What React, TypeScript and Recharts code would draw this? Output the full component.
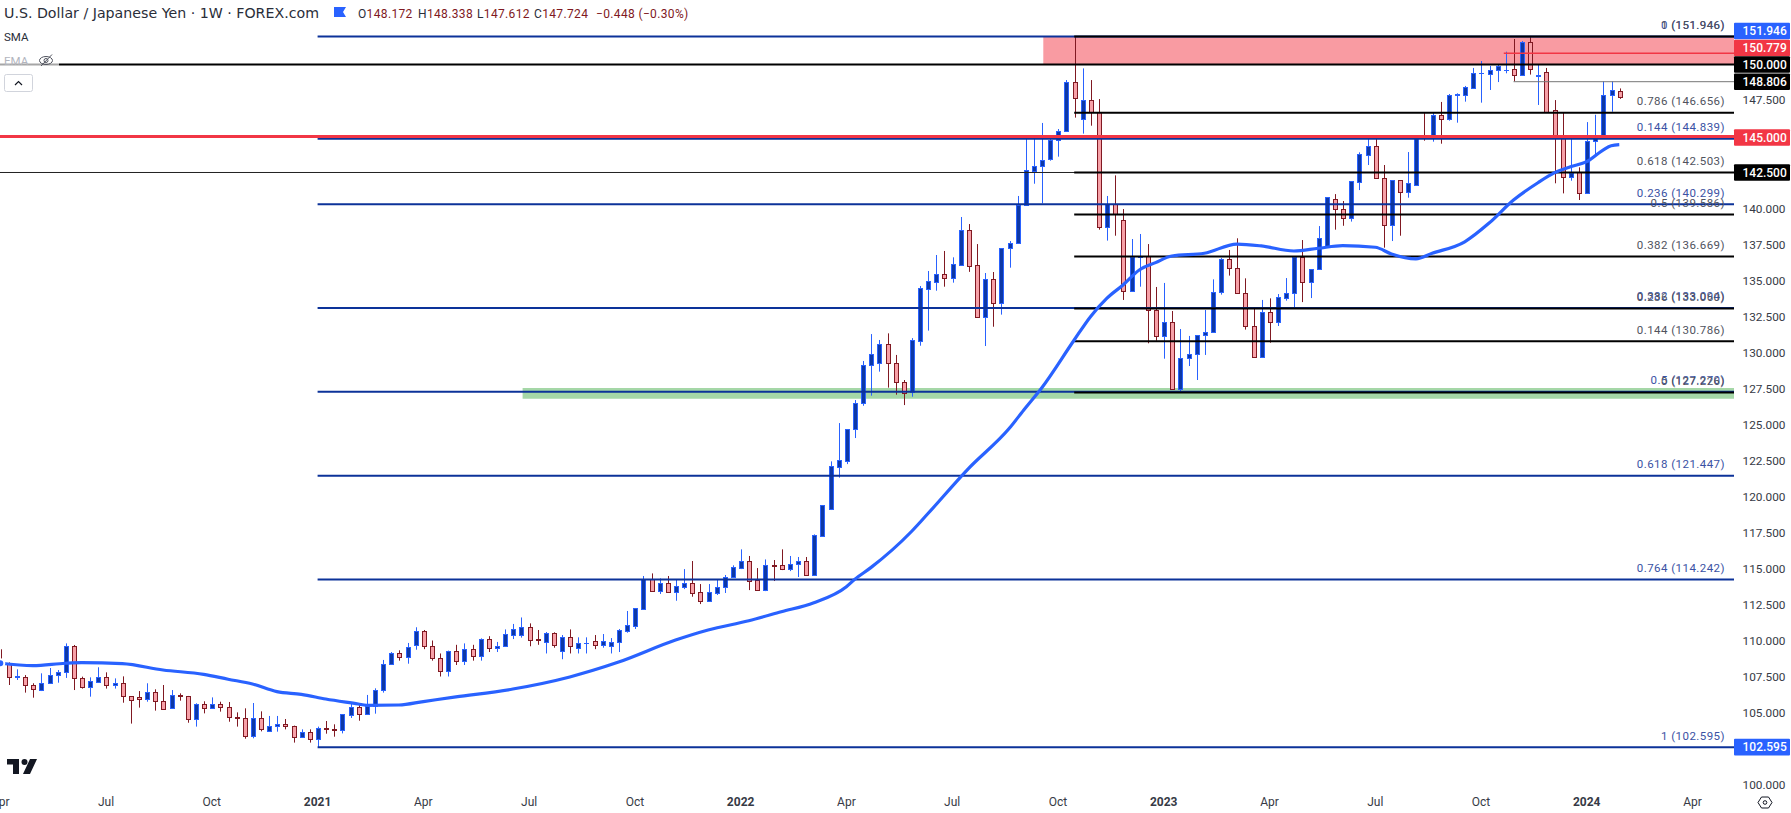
import React from "react";
import { ComposedChart, Bar, Line, XAxis, YAxis, ReferenceLine, ReferenceArea } from "recharts";

// ---------- weekly candles, Apr 2020 – Jan 2024 ----------
const opens = [
  108.55,108.35,107.5,107.49,106.89,106.56,107.03,107.58,107.79,109.6,
  107.37,106.79,107.14,107.44,106.89,107.03,106.12,106.05,105.92,106.4,
  105.78,105.29,106.19,106.12,104.53,105.57,105.29,105.57,105.36,104.67,
  104.6,103.35,104.6,103.69,104.04,104.18,104.04,103.28,103.62,103.18,
  103.9,103.83,103.76,104.85,105.36,104.87,105.45,106.54,108.35,109.11,
  108.83,109.67,110.63,109.65,108.8,107.9,109.3,108.6,109.4,108.95,
  110.1,109.5,109.65,110.4,110.4,110.91,110.08,109.9,110.5,109.3,
  110.22,109.5,109.8,110.0,109.7,109.6,109.9,110.68,111.03,112.21,
  114.25,113.46,113.97,113.39,113.74,113.97,113.34,112.76,113.32,113.69,
  114.38,115.06,115.5,114.18,113.53,115.22,115.22,114.99,115.29,115.5,
  114.57,117.28,119.15,122.07,122.49,124.66,126.47,129.1,129.29,130.57,
  129.25,127.93,127.23,130.82,134.43,134.92,135.43,135.2,136.1,138.48,
  136.05,132.49,135.08,133.46,137.23,137.58,140.22,142.63,142.93,143.46,
  144.73,145.36,148.76,146.24,147.51,146.68,138.74,140.34,139.17,134.29,
  136.6,136.7,132.93,131.12,132.1,127.44,129.6,129.87,131.19,131.4,
  134.18,136.47,135.85,134.11,131.82,129.66,132.79,132.14,133.81,134.11,
  136.61,134.87,135.78,137.42,140.64,140.0,139.36,141.86,143.74,144.32,
  142.09,138.83,141.96,141.17,141.61,145.03,144.94,146.47,146.24,147.86,
  147.86,148.39,149.38,149.32,149.59,149.6,149.66,149.25,151.54,149.22,
  149.46,146.82,145.01,142.16,142.54,141.05,144.66,144.94,147.86,148.172,
];
const highs = [
  109.39,108.48,108.0,107.6,107.03,107.72,108.09,107.95,109.8,109.69,
  107.49,107.44,108.14,107.79,107.37,107.51,106.12,106.49,107.03,106.61,
  106.91,106.56,106.33,106.15,105.64,105.78,106.05,105.75,105.73,105.01,
  105.29,105.66,105.08,104.76,104.76,104.55,104.09,103.83,103.83,104.02,
  104.41,104.18,104.87,105.68,105.64,106.22,106.68,108.65,109.2,109.32,
  109.83,110.92,110.73,110.0,109.1,109.3,109.7,109.8,109.7,110.15,
  110.3,109.9,110.77,111.15,111.6,111.19,110.73,110.59,110.57,110.38,
  110.77,110.22,110.22,110.38,110.45,110.17,110.8,112.05,112.23,114.48,
  114.66,114.31,114.48,114.25,114.96,115.52,113.92,113.92,114.27,114.55,
  115.22,116.33,115.87,115.03,115.63,115.59,116.33,115.87,115.8,115.8,
  117.37,119.38,122.44,125.1,124.66,126.7,129.41,131.28,130.87,131.33,
  129.83,128.09,131.0,134.62,135.66,136.77,137.05,136.61,139.41,138.92,
  137.53,135.52,135.59,137.23,137.74,140.87,145.01,145.01,145.94,144.96,
  145.52,148.92,151.93,149.73,148.92,147.6,140.87,142.3,139.96,137.88,
  138.23,137.53,134.55,134.83,132.88,131.63,131.15,131.19,132.95,135.08,
  136.56,137.12,137.93,135.15,133.04,133.65,133.76,134.06,135.17,136.63,
  137.81,135.78,138.78,140.78,141.0,140.52,141.9,143.9,145.1,144.97,
  143.02,141.96,141.96,143.92,144.99,146.63,146.65,147.4,147.95,148.0,
  148.51,149.76,150.24,149.9,150.03,150.89,151.77,151.63,151.98,150.03,
  149.76,147.53,146.68,145.03,142.86,146.0,146.51,148.83,148.83,148.338,
];
const lows = [
  108.28,106.91,107.26,106.38,106.03,106.49,107.03,107.07,107.4,106.56,
  106.66,106.1,107.07,106.66,106.66,105.68,104.23,105.34,105.75,105.13,
  105.22,105.29,105.82,104.29,104.02,104.94,105.29,105.06,104.36,104.02,
  103.18,103.21,103.69,103.69,103.67,103.83,102.91,103.28,102.91,102.6,
  103.53,103.32,103.55,104.62,104.43,104.87,104.92,106.38,108.35,108.6,
  108.39,109.36,109.4,108.6,107.5,107.5,108.3,108.3,108.6,108.6,
  109.2,109.2,109.6,110.1,110.2,109.6,109.7,109.1,109.5,108.7,
  109.1,109.1,109.1,109.4,109.5,109.1,109.2,110.54,110.8,112.12,
  113.46,113.23,113.32,112.76,113.57,113.04,112.53,112.76,113.16,113.3,
  114.38,114.96,113.5,113.53,113.43,114.13,114.89,114.82,114.41,114.57,
  114.57,117.28,119.06,121.31,122.25,124.06,126.3,127.0,128.67,127.56,
  127.07,126.35,126.93,130.47,131.52,134.29,134.57,134.85,136.03,135.6,
  132.49,130.45,131.79,132.63,135.89,137.58,140.22,141.72,140.36,143.32,
  143.6,145.36,146.31,145.2,145.75,138.53,137.77,138.11,133.65,134.22,
  134.57,130.64,130.82,129.57,127.44,127.3,129.06,128.09,129.83,131.4,
  134.02,135.34,134.11,131.59,129.66,129.66,130.68,131.84,133.6,133.04,
  133.5,133.78,135.78,137.42,138.53,138.8,139.09,141.28,143.02,142.09,
  137.28,137.74,138.11,140.75,141.6,144.71,144.64,144.5,146.1,145.96,
  147.42,148.39,147.35,148.23,148.78,149.39,148.83,149.25,149.3,147.19,
  146.68,141.75,141.05,141.93,140.59,141.05,143.6,144.94,146.72,147.612,
];
const closes = [
  108.32,107.44,107.51,106.89,106.61,107.03,107.58,107.79,109.6,107.37,
  106.79,107.17,107.44,106.89,107.03,106.12,105.85,105.92,106.4,105.78,
  105.27,106.19,106.12,104.53,105.57,105.29,105.57,105.36,104.67,104.6,
  103.35,104.6,103.83,104.04,104.18,104.04,103.28,103.62,103.18,103.9,
  103.83,103.79,104.87,105.36,104.87,105.45,106.54,108.35,109.11,108.83,
  109.53,110.64,109.65,108.8,107.9,109.3,108.6,109.4,108.95,110.1,
  109.5,109.65,110.43,110.77,110.91,110.03,110.05,110.5,109.7,110.22,
  109.6,109.8,109.85,109.7,110.0,109.9,110.73,111.05,112.23,114.27,
  113.46,113.97,113.39,113.76,113.97,113.32,112.76,113.34,113.69,114.38,
  115.08,115.5,114.15,113.53,115.22,115.2,114.99,115.29,115.5,114.57,
  117.3,119.38,122.09,122.51,124.66,126.47,129.1,129.87,130.57,129.25,
  127.93,127.21,130.85,134.46,134.94,135.43,135.2,136.12,138.48,136.03,
  132.49,135.08,133.46,137.23,137.58,140.24,142.65,142.93,143.34,144.73,
  145.36,148.76,147.7,147.51,146.68,138.74,140.34,139.6,134.29,136.63,
  136.7,132.93,131.12,132.1,127.44,129.6,129.87,131.19,131.4,134.18,
  136.47,135.85,134.11,131.82,129.66,132.79,132.14,133.83,134.11,136.63,
  134.87,135.78,137.93,140.78,139.99,139.36,141.9,143.76,144.32,142.09,
  138.83,141.96,141.17,141.75,144.99,144.99,146.47,146.24,147.86,147.93,
  148.41,149.39,149.39,149.59,149.87,149.62,149.25,151.56,149.66,149.25,
  146.68,144.99,142.16,142.49,141.05,144.66,144.94,147.86,148.2,147.724,
];

// ---------- 50-period SMA, read at selected bars ----------
const smaBars = [0,4,8,10,15,20,25,28,31,34,37,40,44,45,49,52,56,63,70,76,83,87,92,96,100,104,105,107,112,114,119,124,126,128,132,134,136,138,140,142,144,148,152,155,159,162,165,169,171,174,176,180,183,186,189,191,193,195,197,198,199];
const smaValues = [108.42,108.25,108.42,108.46,108.39,107.95,107.65,107.31,106.98,106.45,106.26,105.94,105.59,105.5,105.52,105.76,106.08,106.63,107.47,108.5,110.03,110.73,111.37,112.0,112.63,113.74,114.24,115.06,117.57,118.8,121.94,124.72,126.15,127.54,130.87,132.49,133.76,134.69,135.73,136.24,136.7,136.89,137.53,137.4,137.05,137.24,137.42,137.31,136.84,136.5,136.89,137.69,138.99,140.59,141.79,142.47,142.9,143.25,144.06,144.36,144.43];

// ---------- time axis ----------
const timeBars = [0,13,26,39,52,65,78,91,104,117,130,143,156,169,182,195,208];
const timeLabels = ["Apr","Jul","Oct","2021","Apr","Jul","Oct","2022","Apr","Jul","Oct","2023","Apr","Jul","Oct","2024","Apr"];

// ---------- price axis ----------
const priceTicks = [100,105,107.5,110,112.5,115,117.5,120,122.5,125,127.5,130,132.5,135,137.5,140,147.5];
const badgePrices = [151.946,150.779,150,148.806,145,142.5,102.595];
const badgeLabels = ["151.946","150.779","150.000","148.806","145.000","142.500","102.595"];

// ---------- Fibonacci levels ----------
const blueFibLevels = [151.946,144.839,140.299,133.094,127.27,121.447,114.242,102.595];
const blueFibRatios = ["0","0.144","0.236","0.382","0.5","0.618","0.764","1"];
const blackFibLevels = [151.946,146.656,142.503,139.586,136.669,133.06,130.786,127.226];
const blackFibRatios = ["1","0.786","0.618","0.5","0.382","0.236","0.144","0"];

const supportZone = [126.79, 127.53];
const resistanceZone = [150, 151.946];

const rows = opens.map((open, i) => {
  const k = smaBars.indexOf(i);
  return { i, open, high: highs[i], low: lows[i], close: closes[i], sma: k >= 0 ? smaValues[k] : null };
});

const FONT = "Roboto, 'Noto Sans', sans-serif";
const X_MIN = -0.037;
const X_MAX = 213.1;
const BLUE_START = 39;
const BLACK_START = 132;
const BLUE_LINE = "#0c3299";
const badgeColors = ["#2962ff","#f23645","#000000","#000000","#f23645","#000000","#2962ff"];
const badgeShift = [-5.5,-5.3,0,0,1,0,0];

const Candle = (p: any) => {
  const { x, y, width, height, payload } = p;
  const { open, high, low, close } = payload;
  const up = close >= open;
  const span = high - low || 1;
  const toY = (v: number) => y + ((high - v) / span) * height;
  const cx = Math.round(x + width / 2) + 0.5;
  const t = Math.round(toY(Math.max(open, close))) + 0.5;
  const b = Math.round(toY(Math.min(open, close))) + 0.5;
  const edge = up ? "#2962ff" : "#801922";
  const fill = up ? "#0d38a6" : "#f7a1a8";
  return (
    <g>
      <line x1={cx} x2={cx} y1={toY(high)} y2={toY(low)} stroke={edge} strokeWidth={1} />
      {b - t < 1 ? (
        <line x1={cx - 2.5} x2={cx + 2.5} y1={t} y2={t} stroke={edge} strokeWidth={1} />
      ) : (
        <rect x={cx - 2} y={t} width={4} height={b - t} fill={fill} stroke={edge} strokeWidth={1} />
      )}
    </g>
  );
};

const FibLabel = (p: any) => {
  const vb = p.viewBox || {};
  return (
    <text x={1725} y={(vb.y ?? 0) - 7.5} textAnchor="end" fontFamily={FONT} fontSize={11.5} letterSpacing={0.45} fill={p.color}>
      {p.text}
    </text>
  );
};

const PriceTick = (p: any) => {
  const v = p.payload.value;
  const k = badgePrices.indexOf(v);
  if (k >= 0) {
    const cy = p.y + badgeShift[k];
    return (
      <g>
        <rect x={1734} y={cy - 8.3} width={56} height={16.6} rx={1} fill={badgeColors[k]} />
        <text x={1742.5} y={cy + 4.2} fontFamily={FONT} fontSize={12} fontWeight={500} fill="#fff">{badgeLabels[k]}</text>
      </g>
    );
  }
  return (
    <text x={1742.5} y={p.y + 4} fontFamily={FONT} fontSize={11.8} fill="#363a45">{v.toFixed(3)}</text>
  );
};

const TimeTick = (p: any) => {
  const k = timeBars.indexOf(p.payload.value);
  const label = timeLabels[k];
  const year = /^\d+$/.test(label);
  return (
    <text x={p.x} y={806} textAnchor="middle" fontFamily={FONT} fontSize={12} fontWeight={year ? 700 : 400} fill="#363a45">
      {label}
    </text>
  );
};

const ohlcParts = [
  { x: 358, k: "O", v: "148.172" },
  { x: 418, k: "H", v: "148.338" },
  { x: 477, k: "L", v: "147.612" },
  { x: 534, k: "C", v: "147.724" },
];

const Header = () => (
  <svg width={720} height={100} style={{ position: "absolute", left: 0, top: 0, pointerEvents: "none" }}>
    <text x={4} y={18} fontFamily="'DejaVu Sans', sans-serif" fontSize={14.2} fill="#2a2e39">U.S. Dollar / Japanese Yen · 1W · FOREX.com</text>
    <path d="M334 7h12l-3 5 3 5h-12z" fill="#2962ff" />
    {ohlcParts.map((o) => (
      <text key={o.k} x={o.x} y={17.5} fontFamily={FONT} fontSize={12} letterSpacing={0.35}>
        <tspan fill="#2a2e39">{o.k}</tspan>
        <tspan fill="#801922">{o.v}</tspan>
      </text>
    ))}
    <text x={596} y={17.5} fontFamily={FONT} fontSize={12} letterSpacing={0.35} fill="#801922">−0.448 (−0.30%)</text>
    <text x={4} y={41} fontFamily={FONT} fontSize={11.5} fill="#2a2e39">SMA</text>
    <rect x={0} y={54} width={59} height={13} fill="#fff" fillOpacity={0.65} />
    <text x={4} y={65} fontFamily={FONT} fontSize={11.5} fill="#b2b5be">EMA</text>
    <g fill="none" stroke="#50535e" strokeWidth={1}>
      <ellipse cx={46} cy={60.5} rx={6.5} ry={4} />
      <circle cx={46} cy={60.5} r={2} />
      <line x1={41} y1={66} x2={52} y2={54.5} />
    </g>
    <rect x={4.5} y={74.5} width={28} height={17} rx={2} fill="#fff" stroke="#d1d4dc" />
    <path d="M15 85l3.5-3.5 3.5 3.5" fill="none" stroke="#131722" strokeWidth={1.2} />
  </svg>
);

const Footer = () => (
  <svg width={1791} height={813} style={{ position: "absolute", left: 0, top: 0, pointerEvents: "none" }}>
    <g fill="#131722">
      <path d="M7 759h12v15h-6v-9.5H7z" />
      <circle cx={24.5} cy={762} r={3} />
      <path d="M30 759h7l-7 15h-7z" />
    </g>
    <g fill="none" stroke="#131722" strokeWidth={1}>
      <path d="M1758 802.5l3.5-5.5h7l3.5 5.5-3.5 5.5h-7z" />
      <circle cx={1765} cy={802.5} r={1.8} />
    </g>
  </svg>
);

export default function App() {
  return (
    <div style={{ position: "fixed", left: 0, top: 0, width: 1791, height: 813, background: "#fff", overflow: "hidden" }}>
      <ComposedChart width={1791} height={813} data={rows} margin={{ top: 0, right: 0, bottom: 0, left: 0 }}>
        <XAxis
          dataKey="i"
          type="number"
          domain={[X_MIN, X_MAX]}
          ticks={timeBars}
          interval={0}
          axisLine={false}
          tickLine={false}
          height={24}
          tick={<TimeTick />}
        />
        <YAxis
          orientation="right"
          type="number"
          domain={[99.688, 154.479]}
          ticks={[...priceTicks, ...badgePrices]}
          interval={0}
          width={57}
          axisLine={false}
          tickLine={false}
          tick={<PriceTick />}
        />
        <ReferenceArea x1={128.2} x2={X_MAX} y1={resistanceZone[0]} y2={resistanceZone[1]} fill="#f5535f" fillOpacity={0.58} stroke="none" />
        {blueFibLevels.map((v, k) => (
          <ReferenceLine
            key={"b" + k}
            segment={[{ x: BLUE_START, y: v }, { x: X_MAX, y: v }]}
            stroke={BLUE_LINE}
            strokeWidth={2}
            label={<FibLabel text={`${blueFibRatios[k]} (${v.toFixed(3)})`} color="#3a52a4" />}
          />
        ))}
        <ReferenceLine y={150} stroke="#000" strokeWidth={2} />
        <ReferenceLine y={142.5} stroke="#222" strokeWidth={1} />
        <ReferenceLine y={145} stroke="#f23645" strokeWidth={3} />
        <ReferenceLine segment={[{ x: 184.8, y: 150.779 }, { x: X_MAX, y: 150.779 }]} stroke="#f23645" strokeWidth={1.5} />
        <ReferenceLine segment={[{ x: 186, y: 148.806 }, { x: X_MAX, y: 148.806 }]} stroke="#777" strokeWidth={1} />
        <ReferenceArea x1={64.2} x2={X_MAX} y1={supportZone[0]} y2={supportZone[1]} fill="#4caf50" fillOpacity={0.5} stroke="none" />
        {blackFibLevels.map((v, k) => (
          <ReferenceLine
            key={"k" + k}
            segment={[{ x: BLACK_START, y: v }, { x: X_MAX, y: v }]}
            stroke="#000"
            strokeWidth={2}
            label={<FibLabel text={`${blackFibRatios[k]} (${v.toFixed(3)})`} color="#50535e" />}
          />
        ))}
        <Bar dataKey={(d: any) => [d.low, d.high]} barSize={7} shape={<Candle />} isAnimationActive={false} />
        <Line dataKey="sma" type="monotone" connectNulls dot={false} stroke="#2962ff" strokeWidth={3.2} isAnimationActive={false} />
      </ComposedChart>
      <Header />
      <Footer />
    </div>
  );
}
